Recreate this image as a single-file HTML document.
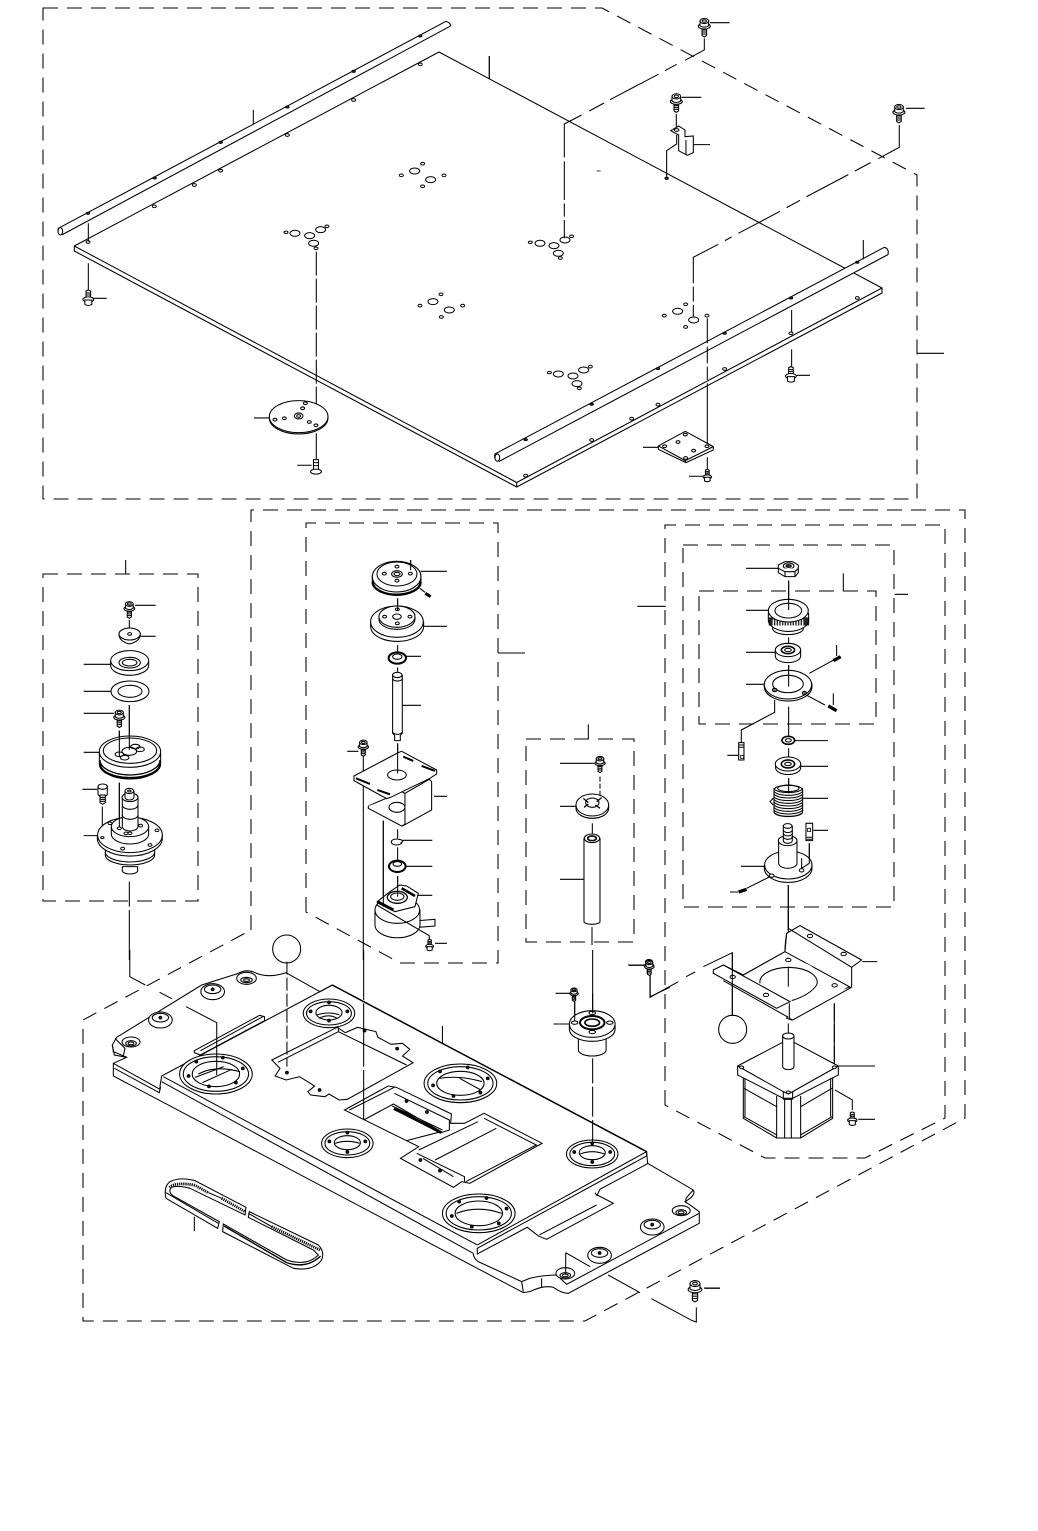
<!DOCTYPE html>
<html><head><meta charset="utf-8"><title>Exploded parts diagram</title>
<style>html,body{margin:0;padding:0;background:#fff}svg{display:block}svg *{vector-effect:non-scaling-stroke}</style></head>
<body>
<svg xmlns="http://www.w3.org/2000/svg" width="1038" height="1531" viewBox="0 0 1038 1531" stroke="#000" stroke-width="1.05" fill="none">
<defs>
<g id="bolt" fill="#fff"><path d="M-2.300 3V11.500L0 13 2.300 11.500V3Z"/><path d="M-2.300 6H2.300M-2.300 8H2.300M-2.300 10H2.300"/><ellipse cx="0" cy="2.200" rx="6" ry="2.800"/><path d="M-4.300-3V1.800Q0 4.500 4.300 1.800V-3Z"/><ellipse cx="0" cy="-3" rx="4.300" ry="2.600"/><ellipse cx="0" cy="-3" rx="2.100" ry="1.200"/></g>
<g id="boltup" fill="#fff"><path d="M-2.300-9V2H2.300V-9L0-10Z"/><path d="M-2.300-7H2.300M-2.300-5H2.300M-2.300-3H2.300"/><ellipse cx="0" cy="-.500" rx="5.400" ry="2.600"/><path d="M-3.500 0V4.500Q0 6.500 3.500 4.500V0Z"/></g>
</defs>

<!-- dashed boundaries -->
<g stroke-dasharray="15 9">
<path d="M43 8H602L917 175V499H43Z"/>
<path d="M251 930V510H965V1118L585 1321H83V1020Z"/>
<path d="M306 912V523H498V963H400Z"/>
<path d="M665 1105V525H945V1118L865 1158H765Z"/>
<path d="M683 545H894V907H683Z"/>
<path d="M699 591H876V724H699Z"/>
<path d="M43 574H198V901H43Z"/>
<path d="M526 739H634V942H526Z"/>
</g>

<!-- TOP PLATE -->
<path fill="#fff" d="M74.300 246L439 52 882 288V293L516.700 487 74.300 251Z"/>
<path d="M74.300 246L516.700 482.500 882 288M516.700 482.500V487"/>
<g transform="translate(40 0) scale(.3333)">
<g fill="#fff">
<path d="M55 685L1218 64Q1232 68 1232 78L67 704Q50 700 55 685Z"/>
<ellipse cx="61" cy="694" rx="7" ry="11"/>
</g>
<path d="M145 670V725M145 790V870M160 895H200M640 330V372M1348 168V236M642 1254H688M772 1396H815"/>
<path d="M829 755V1160" stroke-dasharray="24 3"/>
<path d="M829 1160V1220M829 1300V1378"/>
<use href="#boltup" transform="translate(145 900) scale(3)"/>
<g transform="translate(828 1400) scale(3)" fill="#fff"><path d="M-2.500-7V3H2.500V-7Z"/><path d="M-2.500-4H2.500M-2.500-1H2.500"/><ellipse cx="0" cy="5" rx="5.500" ry="2.500"/></g>
<ellipse cx="776" cy="1254" rx="88" ry="48" fill="#fff"/>
<ellipse cx="776" cy="1250" rx="88" ry="48" fill="#fff"/>
<ellipse cx="776" cy="1248" rx="13" ry="9"/><ellipse cx="776" cy="1248" rx="6" ry="4"/>
<ellipse cx="705" cy="1259" rx="6" ry="4"/><ellipse cx="733" cy="1255" rx="6" ry="4"/><ellipse cx="788" cy="1225" rx="6" ry="4"/><ellipse cx="796" cy="1210" rx="6" ry="4"/><ellipse cx="808" cy="1266" rx="6" ry="4"/><ellipse cx="828" cy="1276" rx="6" ry="4"/>
<g fill="#444"><ellipse cx="144" cy="640" rx="5" ry="3"/><ellipse cx="344" cy="534" rx="5" ry="3"/><ellipse cx="542" cy="427" rx="5" ry="3"/><ellipse cx="742" cy="321" rx="5" ry="3"/><ellipse cx="941" cy="214" rx="5" ry="3"/><ellipse cx="1141" cy="108" rx="5" ry="3"/></g>
<g stroke-width="1"><ellipse cx="144" cy="726" rx="6" ry="4"/><ellipse cx="343" cy="619" rx="6" ry="4"/><ellipse cx="463" cy="555" rx="6" ry="4"/><ellipse cx="542" cy="512" rx="6" ry="4"/><ellipse cx="742" cy="405" rx="6" ry="4"/><ellipse cx="941" cy="300" rx="6" ry="4"/><ellipse cx="1141" cy="193" rx="6" ry="4"/>
<ellipse cx="1148" cy="491" rx="6" ry="4"/><ellipse cx="1124" cy="513" rx="15" ry="9"/><ellipse cx="1084" cy="526" rx="6" ry="4"/><ellipse cx="1172" cy="539" rx="15" ry="9"/><ellipse cx="1212" cy="526" rx="6" ry="4"/><ellipse cx="1148" cy="559" rx="6" ry="4"/>
<ellipse cx="1203" cy="883" rx="6" ry="4"/><ellipse cx="1179" cy="905" rx="15" ry="9"/><ellipse cx="1140" cy="917" rx="6" ry="4"/><ellipse cx="1228" cy="930" rx="15" ry="9"/><ellipse cx="1268" cy="917" rx="6" ry="4"/><ellipse cx="1204" cy="951" rx="6" ry="4"/>
<ellipse cx="738" cy="697" rx="6" ry="3.500"/><ellipse cx="765" cy="700" rx="15" ry="9"/><ellipse cx="809" cy="707" rx="15" ry="9"/><ellipse cx="842" cy="689" rx="15" ry="9"/><ellipse cx="861" cy="679" rx="6" ry="4"/><ellipse cx="821" cy="730" rx="15" ry="9"/><ellipse cx="828" cy="745" rx="6" ry="4"/></g>
</g>
<g transform="translate(480 0) scale(.3333)">
<g fill="#fff">
<path d="M45 1362L1213 742Q1228 746 1224 764L58 1384Q40 1380 45 1362Z"/>
<ellipse cx="52" cy="1373" rx="7" ry="11"/>
</g>
<path d="M28 168V236M1150 720V778M935 930V995M935 1048V1105M950 1126H990M1310 1060H1392M690 68H749M605 292H664M1278 325H1334M640 434H690M489 1342H535M627 1429H670"/>
<path d="M673 115V150L615 181M590 193L555 212M535 223L390 299M372 309L328 333M305 345L253 372V472M253 484V600M253 610V650M253 660V715"/>
<path d="M1258 375V442L1195 476M1172 488L1125 513M1105 524L980 590M960 601L920 623M900 634L838 667 775 700M755 711L735 722M715 733L640 772V850M640 860V905M640 915V950"/>
<path d="M682 955V1030M682 1040V1090M682 1100V1140M682 1150V1340"/>
<path d="M682 1372V1412M589 342V380M590 405V432L560 452V535"/>
<use href="#bolt" transform="translate(673 72) scale(3)"/>
<use href="#bolt" transform="translate(589 298) scale(3)"/>
<use href="#bolt" transform="translate(1257 330) scale(3)"/>
<use href="#boltup" transform="translate(933 1130) scale(3)"/>
<use href="#boltup" transform="translate(682 1432) scale(2.400)"/>
<g fill="#fff">
<path d="M572 392L596 378 615 390V410L640 408V458L622 466 596 452V405Z"/>
<ellipse cx="590" cy="390" rx="7" ry="4"/>
<path d="M618 420V464"/>
<path d="M535 1338L616 1294 700 1340V1350L618 1388 535 1348Z"/>
<path d="M535 1338L616 1382 700 1340M616 1382V1388"/>
<ellipse cx="554" cy="1339" rx="6" ry="4"/><ellipse cx="594" cy="1326" rx="6" ry="4"/><ellipse cx="616" cy="1304" rx="6" ry="4"/><ellipse cx="681" cy="1339" rx="6" ry="4"/><ellipse cx="641" cy="1352" rx="6" ry="4"/><ellipse cx="617" cy="1374" rx="6" ry="4"/>
</g>
<g fill="#444"><ellipse cx="137" cy="1319" rx="5" ry="3"/><ellipse cx="335" cy="1213" rx="5" ry="3"/><ellipse cx="534" cy="1106" rx="5" ry="3"/><ellipse cx="734" cy="1000" rx="5" ry="3"/><ellipse cx="933" cy="894" rx="5" ry="3"/><ellipse cx="1132" cy="787" rx="5" ry="3"/><ellipse cx="560" cy="535" rx="5" ry="3"/></g>
<g stroke-width="1"><ellipse cx="137" cy="1427" rx="6" ry="4"/><ellipse cx="335" cy="1320" rx="6" ry="4"/><ellipse cx="455" cy="1256" rx="6" ry="4"/><ellipse cx="534" cy="1214" rx="6" ry="4"/><ellipse cx="734" cy="1107" rx="6" ry="4"/><ellipse cx="933" cy="1000" rx="6" ry="4"/><ellipse cx="1132" cy="894" rx="6" ry="4"/>
<ellipse cx="151" cy="727" rx="6" ry="3.500"/><ellipse cx="180" cy="730" rx="15" ry="9"/><ellipse cx="222" cy="737" rx="15" ry="9"/><ellipse cx="255" cy="720" rx="15" ry="9"/><ellipse cx="275" cy="709" rx="6" ry="4"/><ellipse cx="235" cy="760" rx="15" ry="9"/><ellipse cx="241" cy="774" rx="6" ry="4"/>
<ellipse cx="208" cy="1118" rx="6" ry="3.500"/><ellipse cx="235" cy="1122" rx="15" ry="9"/><ellipse cx="279" cy="1128" rx="15" ry="9"/><ellipse cx="311" cy="1110" rx="15" ry="9"/><ellipse cx="331" cy="1100" rx="6" ry="4"/><ellipse cx="291" cy="1151" rx="15" ry="9"/><ellipse cx="298" cy="1165" rx="6" ry="4"/>
<ellipse cx="617" cy="913" rx="6" ry="4"/><ellipse cx="593" cy="934" rx="15" ry="9"/><ellipse cx="553" cy="947" rx="6" ry="4"/><ellipse cx="641" cy="960" rx="15" ry="9"/><ellipse cx="681" cy="947" rx="6" ry="4"/><ellipse cx="617" cy="981" rx="6" ry="4"/></g>
<path d="M350 513H362" stroke-width=".8"/>
</g>

<!-- LEFT ASSEMBLY + center column -->
<g transform="translate(40 560) scale(.3333)">
<path d="M257 0V42M285 136H347M268 180V210M302 229H347M131 313H212M131 394H213M131 460H222M268 435V570M238 512V590M131 577H178M127 688H172M187 740V835M238 668V805M131 827H172"/>
<path d="M268 965V1040M268 1050V1200"/>
<g fill="#fff">
<path d="M237 222Q237 240 255 247Q268 256 282 247Q301 240 301 222Z"/><ellipse cx="269" cy="222" rx="32" ry="18"/><ellipse cx="269" cy="222" rx="6" ry="4"/>
<path d="M212 302V316A57 30 0 0 0 326 316V302"/><ellipse cx="269" cy="302" rx="57" ry="30"/><ellipse cx="269" cy="308" rx="32" ry="16"/><ellipse cx="269" cy="308" rx="22" ry="10"/>
<ellipse cx="270" cy="394" rx="57" ry="31"/><ellipse cx="270" cy="394" rx="36" ry="18"/>
</g>
<path d="M178 580V610A92 47 0 0 0 362 610V580" fill="#fff"/>
<path d="M180 612A90 42 0 0 0 360 612" stroke-width="2.300"/>
<path d="M180 600A90 45 0 0 0 360 600" stroke-width="1.300"/>
<ellipse cx="270" cy="575" rx="92" ry="47" fill="#fff"/><ellipse cx="270" cy="572" rx="80" ry="38"/>
<ellipse cx="268" cy="574" rx="22" ry="12"/><ellipse cx="286" cy="560" rx="14" ry="7"/><ellipse cx="300" cy="568" rx="13" ry="7"/><ellipse cx="238" cy="583" rx="13" ry="7"/><ellipse cx="254" cy="593" rx="13" ry="7"/>
<path d="M268 435V570M238 512V590"/>
<g fill="#fff">
<path d="M247 920V932A23 10 0 0 0 293 932V920Z"/>
<path d="M196 870V885A74 30 0 0 0 344 885V870Z"/>
<path d="M172 825V835A97 53 0 0 0 367 835V825"/>
<ellipse cx="270" cy="825" rx="97" ry="53"/>
<path d="M214 800V822A56 30 0 0 0 326 822V800"/>
<ellipse cx="270" cy="800" rx="56" ry="30"/>
<path d="M247 710V800A23.500 13 0 0 0 294 800V710Z"/>
<ellipse cx="270" cy="712" rx="24" ry="13"/>
<path d="M255 695V712A13.500 8 0 0 0 282 712V695Z"/><ellipse cx="268" cy="693" rx="13" ry="8"/><ellipse cx="268" cy="693" rx="5" ry="3"/>
</g>
<path d="M247 735A23.500 13 0 0 0 294 735M247 765A23.500 13 0 0 0 294 765M196 876A74 30 0 0 0 344 876"/>
<path d="M238 668V805"/>
<g stroke-width="1" fill="#fff"><ellipse cx="187" cy="833" rx="5" ry="3"/><ellipse cx="210" cy="790" rx="6" ry="4"/><ellipse cx="351" cy="811" rx="6" ry="4"/><ellipse cx="248" cy="866" rx="6" ry="4"/><ellipse cx="330" cy="855" rx="6" ry="4"/><ellipse cx="238" cy="805" rx="6" ry="4"/><ellipse cx="258" cy="820" rx="6" ry="4"/><ellipse cx="270" cy="820" rx="6" ry="4"/><ellipse cx="302" cy="797" rx="6" ry="4"/></g>
<use href="#bolt" transform="translate(268 140) scale(2.700)"/>
<use href="#bolt" transform="translate(238 466) scale(2.800)"/>
<g transform="translate(188 680)" fill="#fff"><path d="M-14 0V22A14 8 0 0 0 14 22V0Z"/><ellipse cx="0" cy="0" rx="14" ry="8"/><path d="M-8 25V48L0 53 8 48V25Z"/><path d="M-8 32H8M-8 38H8M-8 44H8"/></g>

<!-- center column -->
<path d="M1112 0V30M1142 34H1221M1073 115V150M1150 199H1221M1073 255V280M1097 289H1143M1073 322V338M1087 436H1143M1073 550V640M922 574H955M1073 808V835M1090 841H1177M1073 862V900M1097 919H1177M1073 948V1010M1130 1006H1177M1182 709H1221M1185 1150H1221"/>
<path d="M970 590V1200"/>
<path d="M1030 782V1040"/>
<g fill="#fff">
<path d="M997 50V62A73 44 0 0 0 1143 62V50Z"/>
<path d="M998 66A72 38 0 0 0 1142 66" stroke-width="2.300"/>
<ellipse cx="1070" cy="50" rx="73" ry="46"/><ellipse cx="1071" cy="42" rx="60" ry="36"/>
<ellipse cx="1071" cy="42" rx="16" ry="10"/><ellipse cx="1071" cy="42" rx="9" ry="5"/>
<ellipse cx="1071" cy="20" rx="6" ry="4"/><ellipse cx="1033" cy="41" rx="6" ry="4"/><ellipse cx="1111" cy="41" rx="6" ry="4"/><ellipse cx="1071" cy="62" rx="6" ry="4"/>
<path d="M992 185V200A79 44 0 0 0 1151 200V185"/>
<ellipse cx="1071" cy="185" rx="79" ry="47"/>
<path d="M1017 170V178A54 30 0 0 0 1125 178V170"/><ellipse cx="1071" cy="170" rx="54" ry="32"/>
<ellipse cx="1071" cy="170" rx="13" ry="8"/>
<ellipse cx="1072" cy="148" rx="6" ry="4"/><ellipse cx="1034" cy="170" rx="6" ry="4"/><ellipse cx="1110" cy="170" rx="6" ry="4"/><ellipse cx="1072" cy="190" rx="6" ry="4"/>
<ellipse cx="1072" cy="294" rx="26" ry="17" stroke-width="2"/><ellipse cx="1072" cy="290" rx="14" ry="8"/>
<path d="M1058 345V520L1064 526V542H1081V526L1087 520V345Z"/><ellipse cx="1072" cy="345" rx="14" ry="8"/><path d="M1058 355A14 8 0 0 0 1087 355M1058 515A14 8 0 0 0 1087 515"/>
</g>
<path d="M1073 115V150M1112 0V30"/>
<path d="M1140 85L1155 97"/><path d="M1156 100L1172 110" stroke-width="3"/>
<!-- bracket -->
<g fill="#fff">
<path d="M985 738L1085 695 1095 700V785L1090 795 1088 798 1175 750V665L1168 658 1095 700 1030 735 985 738Z"/>
<path d="M985 738V745L1085 798 1095 793V700"/>
<path d="M942 648L1075 578 1085 574 1190 630V642L1170 655 1052 712 1040 716 942 662Z"/>
<ellipse cx="1071" cy="645" rx="28" ry="15"/>
<ellipse cx="1071" cy="742" rx="24" ry="15"/>
</g>
<g stroke-width="2"><path d="M948 655L990 672M1012 690L1050 703M1090 590L1120 603M1145 618L1185 633"/></g>
<path d="M1073 550V640"/>
<ellipse cx="1070" cy="846" rx="16" ry="9" fill="#fff"/><path d="M1078 838L1090 842 1082 850" fill="#fff"/>
<ellipse cx="1072" cy="919" rx="25" ry="17" stroke-width="2" fill="#fff"/><ellipse cx="1072" cy="912" rx="13" ry="7"/>
<!-- sensor -->
<g fill="#fff">
<path d="M1135 1082L1185 1078V1098L1135 1102"/>
<path d="M1005 1050V1095A67 38 0 0 0 1140 1095V1050Z"/>
<ellipse cx="1072" cy="1050" rx="67" ry="40"/>
<path d="M1080 975L1100 978 1135 1000 1125 1040 1065 1055 1012 1025 1050 995Z"/>
</g>
<path d="M1085 985L1125 1008" stroke-width="2.600"/>
<ellipse cx="1072" cy="1012" rx="30" ry="18" fill="#fff" stroke-width="1.300"/><ellipse cx="1072" cy="1010" rx="20" ry="11"/>
<path d="M1012 1025L1060 1050" stroke-width="3"/>
<path d="M1030 782V1040M1073 948V1010M1168 1150V1127L1010 1035"/>
<use href="#boltup" transform="translate(1169 1160) scale(2.200)"/>
<use href="#bolt" transform="translate(970 555) scale(2.600)"/>
<circle cx="740" cy="1167" r="42" fill="#fff"/>
</g>

<path d="M498 653H525M592 927V945"/>

<!-- RIGHT COLUMN -->
<g transform="translate(520 530) scale(.3333)">
<path d="M352 229H437M1124 193H1164M970 130V184M205 583V625"/>
<path d="M678 115H775M806 152V240M678 241H745M806 322V345M678 367H765M806 405V470M678 463H733M764 510V547L664 600V640M806 530V620M825 632H924M806 655V690M842 709H924M806 745V790M850 805H924M880 901H924M868 940V1000M663 1009H733M630 1086H655M680 1075L750 1040M950 345V378M940 490V525M868 430L945 388M855 493L915 525M622 676H655M120 700H222M120 829H167M217 880V912M120 1048H192M805 1065V1200"/>
<g fill="#fff">
<path d="M775 105V128L795 140H825L835 128V105L818 95H795Z"/><ellipse cx="806" cy="108" rx="16" ry="9"/><ellipse cx="806" cy="108" rx="8" ry="4" fill="#444"/><path d="M775 115L795 125H825L835 115M795 125V140M825 125V140"/>
<path d="M758 285V296A46 18 0 0 0 850 296V285Z"/>
<path d="M745 250V270A60 34 0 0 0 866 270V250Z"/>
<path d="M748 262V285H866V262" fill="#000" opacity=".85"/>
<path d="M760 268V290M768 268V292M776 268V294M784 268V295M792 268V296M800 268V296M808 268V296M816 268V296M824 268V295M832 268V294M840 268V292M848 268V290" stroke="#fff" stroke-width="1.300"/>
<ellipse cx="805" cy="242" rx="60" ry="34"/><ellipse cx="805" cy="242" rx="40" ry="22"/>
<path d="M766 360V378A38 20 0 0 0 842 378V360Z"/><ellipse cx="804" cy="360" rx="38" ry="20"/><ellipse cx="804" cy="360" rx="20" ry="11" stroke-width="1.600"/><ellipse cx="804" cy="360" rx="10" ry="5"/>
<path d="M733 460V470A71 43 0 0 0 876 470V460"/>
<ellipse cx="804" cy="464" rx="71" ry="43"/><ellipse cx="804" cy="462" rx="46" ry="26"/>
<ellipse cx="764" cy="480" rx="7" ry="5" fill="#777"/><ellipse cx="853" cy="489" rx="6" ry="5" fill="#777"/>
<ellipse cx="805" cy="631" rx="19" ry="12" stroke-width="1.600"/><ellipse cx="805" cy="631" rx="9" ry="5"/>
<path d="M767 702V716A38 21 0 0 0 842 716V702Z"/><ellipse cx="804" cy="702" rx="38" ry="21"/><ellipse cx="804" cy="702" rx="20" ry="12" stroke-width="1.600"/><ellipse cx="804" cy="702" rx="10" ry="5"/>
<path d="M656 638H672V690H656Z"/>
<path d="M858 880H878V932H858Z"/>
</g>
<path d="M806 152V240M806 405V470"/>
<path d="M657 645H671M657 652H671M860 922H876M860 928H876" stroke-width="1"/>
<path d="M662 676H671V685H662ZM863 895H872V905H863Z" stroke-width=".8"/>
<!-- spring -->
<g fill="#fff"><path d="M762 780A43 14 0 0 1 848 780V845A43 14 0 0 1 762 845Z"/></g>
<path d="M762 782A43 14 0 0 0 848 782M762 790A43 14 0 0 0 848 790M762 798A43 14 0 0 0 848 798M762 806A43 14 0 0 0 848 806M762 814A43 14 0 0 0 848 814M762 822A43 14 0 0 0 848 822M762 830A43 14 0 0 0 848 830M762 838A43 14 0 0 0 848 838M762 846A43 14 0 0 0 848 846M762 774A43 14 0 0 0 848 774"/>
<path d="M760 805L750 815 760 825"/>
<ellipse cx="805" cy="775" rx="32" ry="10"/><path d="M806 745V790"/>
<!-- hub -->
<g fill="#fff">
<path d="M733 1005V1015A71 42 0 0 0 876 1015V1005"/>
<ellipse cx="805" cy="1005" rx="71" ry="42"/>
<path d="M776 930V1000A27.500 15 0 0 0 831 1000V930Z"/>
<ellipse cx="803" cy="932" rx="28" ry="15"/>
<path d="M790 888V932A13.500 8 0 0 0 817 932V888Z"/><ellipse cx="803" cy="888" rx="13" ry="7"/>
</g>
<path d="M790 900A13.500 8 0 0 0 817 900M790 910A13.500 8 0 0 0 817 910M790 920A13.500 8 0 0 0 817 920"/>
<ellipse cx="845" cy="1021" rx="7" ry="5" fill="#fff"/><ellipse cx="755" cy="1037" rx="7" ry="5" fill="#fff"/><path d="M868 940V1000L845 1015V985"/>
<path d="M805 1065V1200"/>
<!-- grubs -->
<g stroke-width="3.300"><path d="M940 392L962 380M925 528L950 542M656 1086L680 1078"/></g>
<!-- left column -->
<g fill="#fff">
<path d="M168 825V835A49 30 0 0 0 266 835V825"/>
<ellipse cx="217" cy="825" rx="49" ry="33"/>
<ellipse cx="217" cy="818" rx="20" ry="14"/>
<path d="M192 1175V925H240V1175A24 8 0 0 1 192 1175Z"/>
<ellipse cx="216" cy="925" rx="23" ry="13"/><ellipse cx="216" cy="925" rx="13" ry="7" stroke-width="1.600"/>
</g>
<path d="M190 805L205 818M245 803L230 815M192 832L205 822M240 835L226 825" stroke-width="1.300"/>
<path d="M240 740V800" stroke-dasharray="5 2"/>
<use href="#bolt" transform="translate(240 694) scale(2.600)"/>
</g>

<!-- BOTTOM PLATE outline -->
<g transform="translate(80 950) scale(.3333)">
<path fill="#fff" d="M97 285L110 262 365 105 475 70Q500 55 530 70 570 85 618 68L720 125 757 105 1700 605 1703 640 1840 720Q1850 735 1815 755L1830 765 1858 785V820L1465 1030Q1445 1030 1420 1012 1390 1005 1350 1025L1330 1028 100 378V340L140 322 100 305Z"/>
<path d="M757 105L1700 605" stroke-width="1.500"/>
<path d="M100 340L240 418V408L245 378 757 105M103 355L238 428 242 410M250 380L1192 885M245 395L1180 910"/>
<path d="M1192 885L1700 605V618L1192 895V912L1342 832 1375 858 1400 868 1600 760 1552 735 1560 718 1705 640M1552 738L1545 728M1378 855L1550 765M1180 910Q1180 925 1195 935L1325 995 1330 1025M1325 995L1350 985Q1390 975 1430 975L1460 1003 1858 790M1385 985V1012M1840 720L1818 745V760"/>
<path d="M97 285L103 315 140 322M105 265L135 295 130 318"/>
<!-- belt -->
<path fill="#fff" d="M498 772L345 692Q300 680 270 695 250 710 258 745L413 835 418 815 280 738Q262 725 275 712 295 705 330 715L495 795Z"/>
<path d="M258 728L415 820"/>
<path fill="#fff" d="M508 785L715 885Q735 905 725 930 700 965 640 955L428 845 430 822 620 930Q680 950 715 915L700 900 505 802Z"/>
<path d="M268 712Q290 695 345 706L385 728M425 745L495 785M575 830L720 900" stroke-width="2.800" stroke-dasharray="1.200 .9"/>
<path d="M385 728L425 745M505 790L575 830"/>
<path d="M432 828L620 938Q680 958 722 918" stroke-width="1.400"/>
<path d="M343 800V843"/>
</g>

<!-- BOTTOM PLATE details -->
<g transform="translate(80 950) scale(.40816 .33333)">
<g fill="#fff">
<ellipse cx="408" cy="85" rx="24" ry="18"/><ellipse cx="408" cy="90" rx="14" ry="8"/><ellipse cx="408" cy="90" rx="7" ry="4"/>
<ellipse cx="125" cy="276" rx="22" ry="15"/><ellipse cx="125" cy="280" rx="13" ry="8"/><ellipse cx="125" cy="280" rx="7" ry="4"/>
<ellipse cx="325" cy="125" rx="29" ry="24"/><ellipse cx="325" cy="118" rx="20" ry="13"/>
<ellipse cx="197" cy="210" rx="29" ry="24"/><ellipse cx="197" cy="203" rx="20" ry="13"/>
<ellipse cx="1189" cy="970" rx="23" ry="17"/><ellipse cx="1189" cy="976" rx="13" ry="8"/><ellipse cx="1189" cy="976" rx="7" ry="4"/>
<ellipse cx="1473" cy="782" rx="22" ry="15"/><ellipse cx="1473" cy="787" rx="13" ry="8"/><ellipse cx="1473" cy="787" rx="7" ry="4"/>
<ellipse cx="1273" cy="916" rx="29" ry="24"/><ellipse cx="1273" cy="909" rx="20" ry="13"/>
<ellipse cx="1402" cy="831" rx="29" ry="24"/><ellipse cx="1402" cy="824" rx="20" ry="13"/>
</g>
<g fill="#222"><ellipse cx="325" cy="118" rx="3.300" ry="4"/><ellipse cx="197" cy="203" rx="3.300" ry="4"/><ellipse cx="1273" cy="909" rx="3.300" ry="4"/><ellipse cx="1402" cy="824" rx="3.300" ry="4"/></g>
<path d="M280 302L440 196 452 200 452 212 295 315 280 308ZM295 302L448 200" fill="#fff"/>
<g fill="#fff">
<ellipse cx="333" cy="372" rx="89" ry="60"/><ellipse cx="333" cy="372" rx="80" ry="52"/><ellipse cx="333" cy="372" rx="58" ry="38"/>
<ellipse cx="610" cy="190" rx="63" ry="43"/><ellipse cx="610" cy="190" rx="55" ry="35"/><ellipse cx="610" cy="188" rx="32" ry="22"/>
<ellipse cx="932" cy="400" rx="89" ry="58"/><ellipse cx="932" cy="400" rx="80" ry="50"/><ellipse cx="932" cy="400" rx="58" ry="36"/>
<ellipse cx="655" cy="580" rx="63" ry="43"/><ellipse cx="655" cy="580" rx="55" ry="35"/><ellipse cx="655" cy="578" rx="32" ry="21"/>
<ellipse cx="1255" cy="612" rx="63" ry="42"/><ellipse cx="1255" cy="612" rx="55" ry="35"/><ellipse cx="1255" cy="608" rx="32" ry="21"/>
<ellipse cx="977" cy="790" rx="89" ry="58"/><ellipse cx="977" cy="790" rx="80" ry="50"/><ellipse cx="977" cy="790" rx="58" ry="37"/>
</g>
<path d="M282 382L352 350M300 398L372 358M290 372Q330 345 392 365"/>
<path d="M580 195Q610 183 636 195M585 205Q610 190 630 205M880 385Q930 375 985 395M930 385L982 420M922 790Q975 765 1033 790M625 580Q655 568 685 580M1225 612Q1255 598 1285 612"/>
<g fill="#222"><ellipse cx="285" cy="335" rx="3.300" ry="4"/><ellipse cx="350" cy="323" rx="3.300" ry="4"/><ellipse cx="399" cy="355" rx="3.300" ry="4"/><ellipse cx="382" cy="398" rx="3.300" ry="4"/><ellipse cx="316" cy="409" rx="3.300" ry="4"/><ellipse cx="266" cy="378" rx="3.300" ry="4"/>
<ellipse cx="610" cy="157" rx="3.300" ry="4"/><ellipse cx="565" cy="184" rx="3.300" ry="4"/><ellipse cx="655" cy="184" rx="3.300" ry="4"/><ellipse cx="610" cy="212" rx="3.300" ry="4"/>
<ellipse cx="882" cy="364" rx="3.300" ry="4"/><ellipse cx="950" cy="352" rx="3.300" ry="4"/><ellipse cx="999" cy="385" rx="3.300" ry="4"/><ellipse cx="981" cy="428" rx="3.300" ry="4"/><ellipse cx="915" cy="438" rx="3.300" ry="4"/><ellipse cx="865" cy="406" rx="3.300" ry="4"/>
<ellipse cx="655" cy="548" rx="3.300" ry="4"/><ellipse cx="611" cy="574" rx="3.300" ry="4"/><ellipse cx="699" cy="574" rx="3.300" ry="4"/><ellipse cx="655" cy="606" rx="3.300" ry="4"/>
<ellipse cx="1255" cy="580" rx="3.300" ry="4"/><ellipse cx="1211" cy="606" rx="3.300" ry="4"/><ellipse cx="1299" cy="606" rx="3.300" ry="4"/><ellipse cx="1255" cy="636" rx="3.300" ry="4"/>
<ellipse cx="929" cy="755" rx="3.300" ry="4"/><ellipse cx="996" cy="744" rx="3.300" ry="4"/><ellipse cx="1045" cy="776" rx="3.300" ry="4"/><ellipse cx="1026" cy="820" rx="3.300" ry="4"/><ellipse cx="960" cy="830" rx="3.300" ry="4"/><ellipse cx="911" cy="798" rx="3.300" ry="4"/></g>
<!-- square cut-out -->
<path fill="#fff" d="M470 330L630 232 650 248 680 232 725 245 730 262 762 283 790 280 808 298 790 318 816 338 655 448 635 450 610 432 600 440 565 435 558 425 575 408 538 380 505 390 478 378 490 355Z"/>
<path d="M485 337L633 245 800 345M633 232V245"/>
<g fill="#222"><ellipse cx="507" cy="368" rx="3.300" ry="4"/><ellipse cx="587" cy="420" rx="3.300" ry="4"/><ellipse cx="697" cy="242" rx="3.300" ry="4"/><ellipse cx="777" cy="296" rx="3.300" ry="4"/></g>
<!-- center recesses -->
<path fill="#fff" d="M648 480L755 408 775 412 910 492 908 520 942 520 990 490 1132 580 955 700 935 695 915 712 785 625 830 590 800 572Z"/>
<path d="M660 480L770 412M695 510L768 462 885 545 800 572M770 430L905 510 905 540 885 548M768 478L885 550M765 468L888 540M870 630L1020 535M990 505L1118 585 945 695M975 515L830 600M825 610L942 680V695M840 625L915 680"/>
<path d="M770 475L885 548" stroke-width="2.600"/>
<g fill="#222"><ellipse cx="800" cy="453" rx="3.300" ry="4"/><ellipse cx="850" cy="486" rx="3.300" ry="4"/><ellipse cx="834" cy="630" rx="3.300" ry="4"/><ellipse cx="882" cy="662" rx="3.300" ry="4"/></g>
<!-- leaders -->
<path d="M122 0V80L160 105M195 127L225 146M260 170L335 218V375M888 228V282M1190 908V975M1190 908L1250 950M1294 975L1372 1028M1400 1046L1500 1112 1510 1116V1072M1397 46V140L1445 112M1345 46H1385M1165 130H1205M1212 150V212M1160 222H1198"/>
<path d="M507 35V350" stroke-dasharray="13 3"/>
<path d="M695 0V150M695 160V350M695 360V510"/>
<path d="M1256 0V185M1256 325V400M1256 410V500M1256 510V575"/>
<!-- flanged bearing -->
<g fill="#fff">
<path d="M1221 250V300A34 18 0 0 0 1289 300V250Z"/>
<path d="M1199 225V238A56 36 0 0 0 1311 238V225"/>
<ellipse cx="1255" cy="222" rx="56" ry="40"/>
<ellipse cx="1255" cy="218" rx="30" ry="20" stroke-width="2"/><ellipse cx="1255" cy="218" rx="18" ry="11" stroke-width="1.600"/>
<ellipse cx="1255" cy="189" rx="8" ry="5"/><ellipse cx="1212" cy="218" rx="8" ry="5"/><ellipse cx="1298" cy="218" rx="8" ry="5"/><ellipse cx="1255" cy="246" rx="8" ry="5"/>
</g>
<path d="M1256 130V190M1212 150V212"/>
<path d="M1530 1015H1568"/>
</g>
<use href="#bolt" transform="translate(574 992) scale(.72)"/>
<use href="#bolt" transform="translate(649 964) scale(.8)"/>
<use href="#bolt" transform="translate(695 1287) scale(1.150)"/>
<path d="M704 1288H720"/>

<!-- MOTOR / BRACKET -->
<g transform="translate(620 910) scale(.3333)">
<path d="M24 165H72M90 195V262L175 215M198 200L225 186M250 170L337 128V318M505 0V130M505 170V230M505 340V372M643 280V465M727 155H772M655 468H765M715 628H765M645 540L697 570V600"/>
<g fill="#fff">
<path d="M500 70L540 47 725 150 695 172 695 230 515 330 500 325 510 290 470 290 280 190 310 165 370 195 495 125Z"/>
<path d="M500 70Q495 100 495 125M505 55L695 172"/>
<path d="M370 195L495 125 688 230 515 330"/>
<path d="M280 180L310 165 510 275 470 295 280 190Z"/>
<path d="M310 212L505 322M508 280V325L518 330 695 232"/>
<ellipse cx="505" cy="195" rx="86" ry="44" stroke="none"/>
<path d="M420 220A86 44 0 1 1 590 225Q570 255 515 272"/>
<ellipse cx="570" cy="78" rx="8" ry="5"/><ellipse cx="671" cy="132" rx="8" ry="5"/><ellipse cx="505" cy="150" rx="8" ry="5"/><ellipse cx="644" cy="226" rx="8" ry="5"/><ellipse cx="338" cy="201" rx="8" ry="5"/><ellipse cx="438" cy="255" rx="8" ry="5"/>
</g>
<path d="M505 170V230M337 128V318"/>
<circle cx="338" cy="358" r="42" fill="#fff"/>
<g fill="#fff">
<path d="M370 505V625L470 684H542L638 625V505Z"/>
<path d="M353 468V495L490 565H518L655 495V468L505 388Z"/>
<path d="M353 468L490 545 505 552 518 545 655 468M490 545V568M518 545V568M490 568H518"/>
</g>
<path d="M375 505V620M632 505V620M470 558V684M494 568V686M514 568V686M542 558V684M372 535L470 590M372 620L470 675M542 590L636 535M542 675L636 620"/>
<path d="M488 380V470A17 9 0 0 0 522 470V380Z" fill="#fff"/><ellipse cx="505" cy="378" rx="17" ry="9" fill="#fff"/>
<g fill="#fff"><ellipse cx="365" cy="472" rx="6" ry="4"/><ellipse cx="643" cy="472" rx="6" ry="4"/><ellipse cx="505" cy="547" rx="6" ry="4"/></g>
<path d="M643 280V465" stroke-dasharray="18 3"/>
<use href="#boltup" transform="translate(697 632) scale(2.600)"/>
<use href="#bolt" transform="translate(88 165) scale(2.400)"/>
</g>
</svg>
</body></html>
